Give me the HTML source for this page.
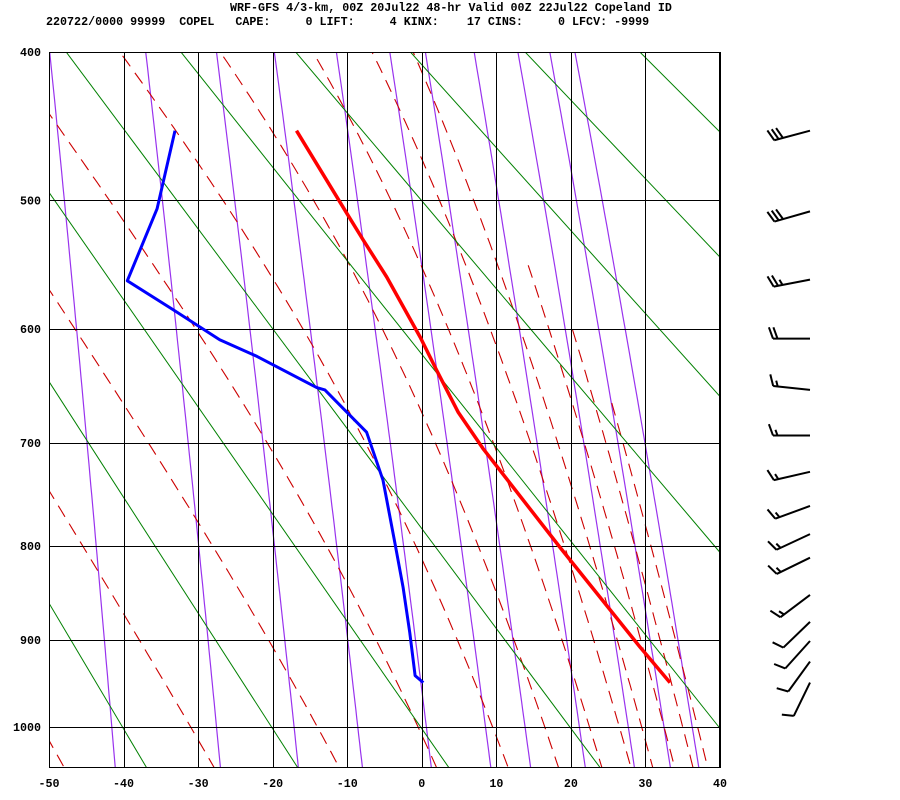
<!DOCTYPE html>
<html><head><meta charset="utf-8">
<style>
html,body{margin:0;padding:0;background:#fff;}
svg{display:block;}
text{font-family:"Liberation Mono",monospace;font-weight:bold;font-size:11.7px;fill:#000;}
</style></head>
<body>
<svg id="chart" width="900" height="800" viewBox="0 0 900 800" xmlns="http://www.w3.org/2000/svg">
<defs><clipPath id="plotclip"><rect x="49" y="52" width="671" height="716"/></clipPath></defs>
<text x="230" y="11" xml:space="preserve">WRF-GFS 4/3-km, 00Z 20Jul22 48-hr Valid 00Z 22Jul22 Copeland ID</text>
<text x="46" y="25" xml:space="preserve">220722/0000 99999  COPEL   CAPE:     0 LIFT:     4 KINX:    17 CINS:     0 LFCV: -9999</text>
<g id="bg" clip-path="url(#plotclip)"></g>
<g id="grid"></g>
<g id="traces" clip-path="url(#plotclip)"></g>
<g id="barbs"></g>
<g id="labels"></g>
</svg>
<script>
const pressureTicks = [400,500,600,700,800,900,1000];
const tempTicks = [-50,-40,-30,-20,-10,0,10,20,30,40];
const tempP = [451,509,529,558,607,635,672,705,801,908,948];
const tempT = [-16.8,-10.1,-7.9,-4.7,-0.2,2.0,4.9,8.2,18.5,29.3,33.3];
const dewP = [451,506,561,584,609,623,650,652,690,735,797,843,892,940,948];
const dewT = [-33.1,-35.5,-39.5,-33.4,-27.1,-22.1,-14.1,-13.0,-7.4,-5.2,-3.6,-2.5,-1.6,-0.9,0.2];
const windP = [451,508,560,608,652,693,727,760,788,812,851,880,901,924,948];
const windDir = [255,254,259,270,276,270,257,250,245,244,233,226,222,216,206];
const windSpd = [30,30,25,20,15,15,15,15,15,15,15,10,10,10,10];
const thetaList = [213,233,253,273,293,313,333,353,373,393,413,433];
const thetaWList = [-51,-31,-14,-0.5,9.5,16.5,22.5,26.5,29.5,32.5,35,37];
const thetaWTopP = [370,370,370,370,370,370,370,370,370,545,595,660];
const mixRatios = [0.1,0.4,1,2,4,7,10,16,24,32,40];

const NS = "http://www.w3.org/2000/svg";
const KAP = 0.286;
const X0 = 49, X1 = 720, TMIN = -50, TMAX = 40;
const Y0 = 52, Y1 = 727;
const SC = (Y1 - Y0) / (Math.pow(1000, KAP) - Math.pow(400, KAP));
function xOf(t){ return X0 + (t - TMIN) * (X1 - X0) / (TMAX - TMIN); }
function yOf(p){ return Y0 + (Math.pow(p, KAP) - Math.pow(400, KAP)) * SC; }
function mk(tag, attrs, parent){
  const e = document.createElementNS(NS, tag);
  for (const k in attrs) e.setAttribute(k, attrs[k]);
  parent.appendChild(e);
  return e;
}
function pathD(pts){ return pts.map((q,i)=>(i?'L':'M')+q[0].toFixed(1)+' '+q[1].toFixed(1)).join(''); }

const bg = document.getElementById('bg');
const grid = document.getElementById('grid');
const traces = document.getElementById('traces');
const barbs = document.getElementById('barbs');
const labels = document.getElementById('labels');

// mixing ratio lines (purple)
const pSteps = [];
for (let p = 370; p <= 1070; p += 10) pSteps.push(p);
mixRatios.forEach(w=>{
  const pts = pSteps.map(p=>{
    const e = w * p / (622 + w);
    const l = Math.log(e / 6.112);
    const t = 243.5 * l / (17.67 - l);
    return [xOf(t), yOf(p)];
  });
  const el = mk('path', {d: pathD(pts), fill:'none', stroke:'#9933ee', 'stroke-width':1.2}, bg);
  
  
});

// moist adiabats (red dashed)
function es(tc){ return 6.112 * Math.exp(17.67 * tc / (tc + 243.5)); }
function moistPts(tw, ptop){
  const Rd=287.04, Cp=1005.7, Lv=2.501e6, eps=0.622;
  function grad(T,p){
    const e = es(T-273.15); const rs = eps*e/(p-e);
    return (Rd*T + Lv*rs)/(Cp + Lv*Lv*rs*eps/(Rd*T*T));
  }
  const up = [], down = [];
  let T = tw + 273.15, lp = Math.log(1000);
  const h = 0.01;
  while (lp > Math.log(ptop)) {
    up.push([xOf(T-273.15), yOf(Math.exp(lp))]);
    T -= grad(T, Math.exp(lp)) * h; lp -= h;
  }
  T = tw + 273.15; lp = Math.log(1000);
  while (lp < Math.log(1070)) {
    T += grad(T, Math.exp(lp)) * h; lp += h;
    down.push([xOf(T-273.15), yOf(Math.exp(lp))]);
  }
  return up.reverse().concat(down);
}
thetaWList.forEach((tw,i)=>{
  const el = mk('path', {d: pathD(moistPts(tw, thetaWTopP[i])), fill:'none', stroke:'#cc0000', 'stroke-width':1.1, 'stroke-dasharray':'13 8'}, bg);
  
  
});

// dry adiabats (green)
thetaList.forEach(th=>{
  const pts = [370,1070].map(p=>[xOf(th*Math.pow(p/1000,KAP)-273.15), yOf(p)]);
  const el = mk('path', {d: pathD(pts), fill:'none', stroke:'#008000', 'stroke-width':1}, bg);
  
  
});

// grid
tempTicks.forEach(t=>{
  const x = Math.round(xOf(t)) + 0.5;
  const el = mk('line', {x1:x, y1:52, x2:x, y2:768, stroke:'#000', 'stroke-width':1}, grid);
  
  
  const lb = mk('text', {x: xOf(t), y: 787, 'text-anchor':'middle'}, labels);
  lb.textContent = String(t);
  
  
});
pressureTicks.forEach(p=>{
  const y = Math.round(yOf(p)) + 0.5;
  const el = mk('line', {x1:49, y1:y, x2:720, y2:y, stroke:'#000', 'stroke-width':1}, grid);
  
  
  const lb = mk('text', {x: 41, y: yOf(p)+4, 'text-anchor':'end'}, labels);
  lb.textContent = String(p);
  
  
});
const frame = mk('rect', {x:49.5, y:52.5, width:670, height:715, fill:'none', stroke:'#000', 'stroke-width':1}, grid);



// traces
const dew = mk('path', {d: pathD(dewP.map((p,i)=>[xOf(dewT[i]), yOf(p)])), fill:'none', stroke:'#0000ff', 'stroke-width':3, 'stroke-linejoin':'round'}, traces);


const tmp = mk('path', {d: pathD(tempP.map((p,i)=>[xOf(tempT[i]), yOf(p)])), fill:'none', stroke:'#ff0000', 'stroke-width':3.5, 'stroke-linejoin':'round'}, traces);



// wind barbs
windP.forEach((p,i)=>{
  const g = mk('g', {}, barbs);
  
  
  const bx = 810, by = yOf(p);
  const a = windDir[i] * Math.PI / 180;
  const ux = Math.sin(a), uy = -Math.cos(a);
  const L = 37;
  const tx = bx + ux*L, ty = by + uy*L;
  mk('line', {x1:bx, y1:by, x2:tx, y2:ty, stroke:'#000', 'stroke-width':2}, g);
  const r = 70 * Math.PI / 180;
  const vx = ux*Math.cos(r) - uy*Math.sin(r), vy = ux*Math.sin(r) + uy*Math.cos(r);
  const full = Math.floor(windSpd[i]/10), half = (windSpd[i] % 10) >= 5 ? 1 : 0;
  let k = 0;
  for (let f = 0; f < full; f++, k++) {
    const sx = tx - ux*4.5*k, sy = ty - uy*4.5*k;
    mk('line', {x1:sx, y1:sy, x2:sx+vx*12, y2:sy+vy*12, stroke:'#000', 'stroke-width':2}, g);
  }
  if (half) {
    const sx = tx - ux*4.5*k, sy = ty - uy*4.5*k;
    mk('line', {x1:sx, y1:sy, x2:sx+vx*6, y2:sy+vy*6, stroke:'#000', 'stroke-width':2}, g);
  }
});
</script>
</body></html>
